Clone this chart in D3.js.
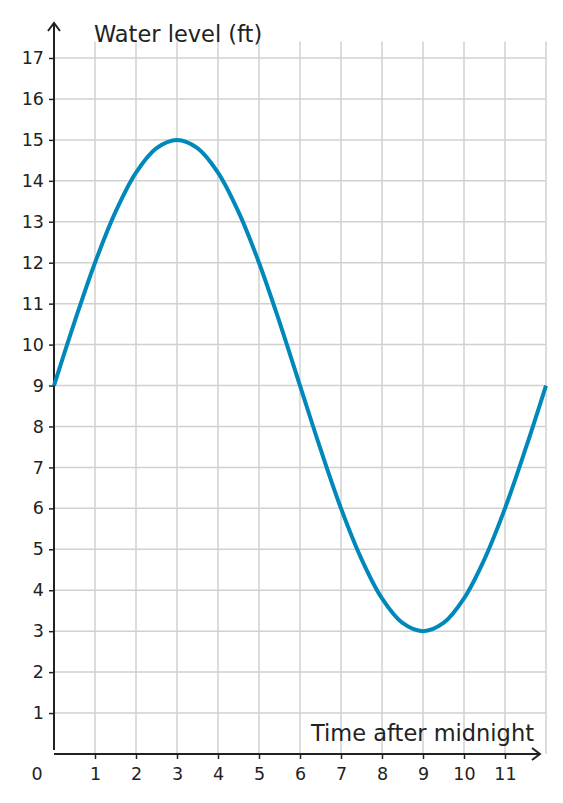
<!DOCTYPE html>
<html>
<head>
<meta charset="utf-8">
<script src="https://cdn.jsdelivr.net/npm/d3@7"></script>
<style>
  body { margin: 0; background: #fff; }
  text { font-family: "DejaVu Sans", sans-serif; fill: #222; }
</style>
</head>
<body>
<div id="chart"></div>
<script>
// data, one point per half hour
var hours = [0, 0.5, 1, 1.5, 2, 2.5, 3, 3.5, 4, 4.5, 5, 5.5, 6, 6.5, 7, 7.5, 8, 8.5, 9, 9.5, 10, 10.5, 11, 11.5, 12];
var levels = [9, 10.55, 12, 13.24, 14.2, 14.8, 15, 14.8, 14.2, 13.24, 12, 10.55, 9, 7.45, 6, 4.76, 3.8, 3.2, 3, 3.2, 3.8, 4.76, 6, 7.45, 9];
var xTicks = [1, 2, 3, 4, 5, 6, 7, 8, 9, 10, 11];
var yTicks = [1, 2, 3, 4, 5, 6, 7, 8, 9, 10, 11, 12, 13, 14, 15, 16, 17];

var W = 563, H = 803;
var svg = d3.select("#chart").append("svg").attr("width", W).attr("height", H);

var x = d3.scaleLinear().domain([0, 12]).range([54, 546]);
var y = d3.scaleLinear().domain([0, 17]).range([754, 58]);

// grid
svg.append("g").selectAll("line").data(xTicks.concat([12])).join("line")
  .attr("x1", d => x(d)).attr("x2", d => x(d))
  .attr("y1", y(0)).attr("y2", y(17.4))
  .attr("stroke", "#d0d0d0").attr("stroke-width", 1.5);
svg.append("g").selectAll("line").data(yTicks).join("line")
  .attr("x1", x(0)).attr("x2", x(12))
  .attr("y1", d => y(d)).attr("y2", d => y(d))
  .attr("stroke", "#d0d0d0").attr("stroke-width", 1.5);

// axes
var xAxis = svg.append("g").attr("transform", "translate(0," + y(0) + ")")
  .call(d3.axisBottom(x).tickValues(xTicks).tickSize(5).tickSizeOuter(0));
var yAxis = svg.append("g").attr("transform", "translate(" + x(0) + ",0)")
  .call(d3.axisLeft(y).tickValues(yTicks).tickSize(5).tickSizeOuter(0));
[xAxis, yAxis].forEach(function(a) {
  a.select(".domain").remove();
  a.selectAll("line").attr("stroke", "#222").attr("stroke-width", 1.5);
  a.selectAll("text").style("font-family", "DejaVu Sans, sans-serif").style("font-size", "17.5px").attr("fill", "#222");
});
xAxis.selectAll("text").attr("dy", "1.05em");
yAxis.selectAll("text").attr("x", -10);

// axis lines with arrows
svg.append("line").attr("x1", x(0)).attr("x2", 540).attr("y1", y(0)).attr("y2", y(0))
  .attr("stroke", "#222").attr("stroke-width", 2);
svg.append("path").attr("d", "M532,748 L540,754 L532,760").attr("fill", "none").attr("stroke", "#222").attr("stroke-width", 2);
svg.append("line").attr("x1", x(0)).attr("x2", x(0)).attr("y1", 750).attr("y2", 23)
  .attr("stroke", "#222").attr("stroke-width", 2);
svg.append("path").attr("d", "M48,31 L54,23 L60,31").attr("fill", "none").attr("stroke", "#222").attr("stroke-width", 2);

svg.append("text").attr("x", 37).attr("y", 780).attr("text-anchor", "middle").style("font-size", "17.5px").text("0");
svg.append("text").attr("x", 94).attr("y", 42).style("font-size", "22.5px").text("Water level (ft)");
svg.append("text").attr("x", 534).attr("y", 741).attr("text-anchor", "end").style("font-size", "22.5px").text("Time after midnight");

// curve
var pts = hours.map((h, i) => [h, levels[i]]);
svg.append("path").datum(pts)
  .attr("d", d3.line().x(d => x(d[0])).y(d => y(d[1])).curve(d3.curveCatmullRom))
  .attr("fill", "none").attr("stroke", "#0088bb").attr("stroke-width", 4);
</script>
</body>
</html>
